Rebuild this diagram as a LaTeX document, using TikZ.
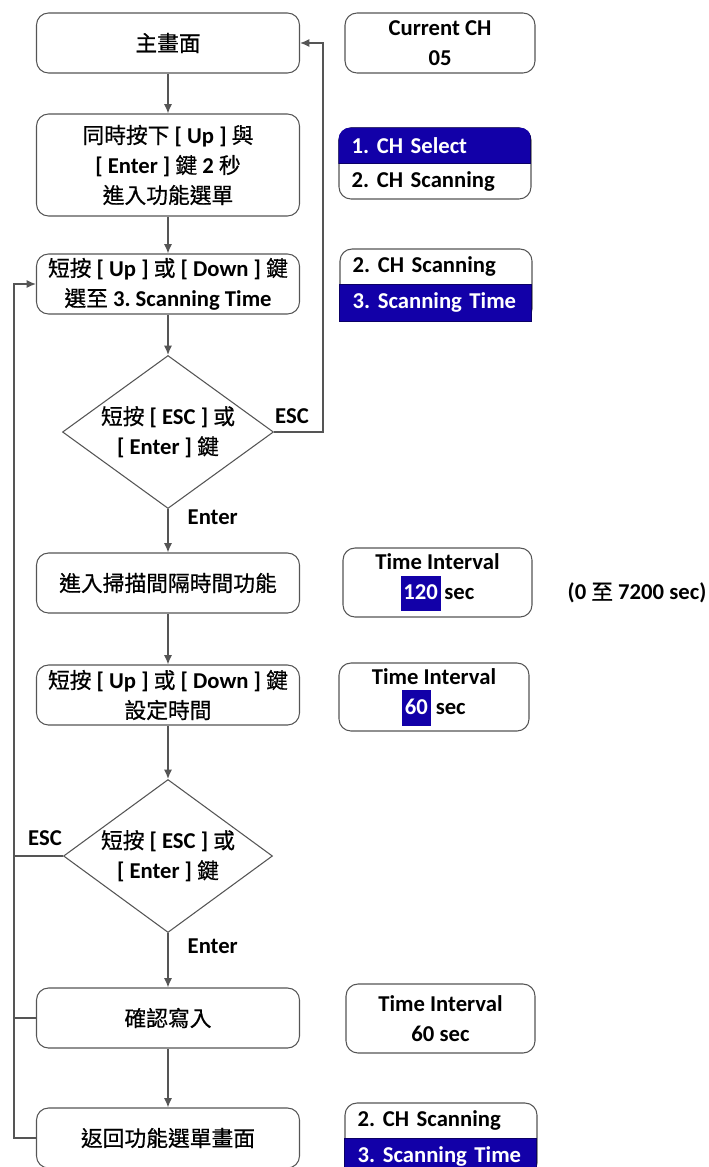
\documentclass[tikz,border=0pt]{standalone}
\usepackage{fontspec}
\setmainfont{Carlito}
\newfontfamily\cjk{Noto Sans CJK TC}[Scale=0.96,FakeBold=0.6]
\usepackage{tikz}
\usetikzlibrary{shapes.geometric,arrows.meta}
\definecolor{lcdblue}{RGB}{18,0,168}
\definecolor{linegray}{RGB}{85,85,85}
\newcommand\pxu{0.75pt}
\newcommand\zh[1]{{\cjk\mdseries #1}}
\newcommand\hl[1]{{\setlength\fboxsep{2pt}\colorbox{lcdblue}{\strut\textcolor{white}{#1}}}}

\begin{document}
\begin{tikzpicture}[x=\pxu,y=-\pxu,
    font=\fontsize{17}{22.5}\selectfont\bfseries\frenchspacing,
    >={Latex[length=7pt,width=6pt]},
    stepbox/.style={draw=linegray,line width=0.8pt,rounded corners=9pt,minimum width=263*\pxu,minimum height=60*\pxu,align=center,inner sep=2pt},
    lcd/.style={draw=linegray,line width=0.8pt,rounded corners=9pt,minimum width=190*\pxu,minimum height=69*\pxu,align=center,inner sep=1pt},
    row/.style={minimum width=192*\pxu,minimum height=36*\pxu,text width=166*\pxu,inner xsep=13*\pxu,align=left},
    band/.style={row,fill=lcdblue,draw=lcdblue!60!black,text=white},
    decide/.style={diamond,aspect=1.38,draw=linegray,line width=0.8pt,minimum width=211*\pxu,minimum height=153*\pxu,inner sep=0pt,align=center},
    conn/.style={draw=linegray,line width=1pt}]
  \useasboundingbox (0,0) rectangle (708,1167);
  % left column
  \node[stepbox] (main) at (168,43) {\zh{主畫面}};
  \node[stepbox,minimum height=102*\pxu] (hold) at (168,165) {\zh{同時按下} [ Up ] \zh{與}\\{}[ Enter ] \zh{鍵} 2 \zh{秒}\\\zh{進入功能選單}};
  \node[stepbox] (pick) at (168,284) {\zh{短按} [ Up ] \zh{或} [ Down ] \zh{鍵}\\\zh{選至} 3. Scanning Time};
  \node[decide] (ask1) at (168,432) {\zh{短按} [ ESC ] \zh{或}\\{}[ Enter ] \zh{鍵}};
  \node[stepbox] (intv) at (168,583) {\zh{進入掃描間隔時間功能}};
  \node[stepbox] (adj) at (168,695) {\zh{短按} [ Up ] \zh{或} [ Down ] \zh{鍵}\\\zh{設定時間}};
  \node[decide,minimum width=209*\pxu] (ask2) at (168,856) {\zh{短按} [ ESC ] \zh{或}\\{}[ Enter ] \zh{鍵}};
  \node[stepbox] (save) at (168,1018) {\zh{確認寫入}};
  \node[stepbox] (back) at (168,1138) {\zh{返回功能選單畫面}};
  % right column
  \node[lcd,minimum height=60*\pxu] (cur) at (440,43) {Current CH\\05};
  \node[lcd,minimum width=192*\pxu,minimum height=71*\pxu] (menu1) at (435,163.5) {};
  \begin{scope}
    \clip[rounded corners=9pt] (menu1.north west) rectangle (menu1.south east);
    \node[band,anchor=north west] (menu1a) at (menu1.north west) {1. CH Select};
  \end{scope}
  \node[row,anchor=south west] (menu1b) at (menu1.south west) {2. CH Scanning};
  \node[lcd,minimum width=192*\pxu,minimum height=72*\pxu] (menu2) at (436,285) {};
  \node[row,anchor=north west] (menu2a) at (menu2.north west) {2. CH Scanning};
  \node[band,minimum height=37*\pxu,anchor=south west] (menu2b) at (menu2.south west) {3. Scanning Time};
  \node[lcd,minimum width=189*\pxu] (ti1) at (437.5,582.5) {Time Interval\\\hl{120}\,sec};
  \node (range) at (637,593) {(0 \zh{至} 7200 sec)};
  \node[lcd,minimum height=68*\pxu] (ti2) at (434,697) {Time Interval\\\hl{60} sec};
  \node[lcd,minimum width=189*\pxu] (ti3) at (440.5,1018.5) {Time Interval\\60 sec};
  \node[lcd,minimum width=192*\pxu,minimum height=72*\pxu] (menu3) at (441,1139) {};
  \node[row,anchor=north west] (menu3a) at (menu3.north west) {2. CH Scanning};
  \node[band,minimum height=37*\pxu,anchor=south west] (menu3b) at (menu3.south west) {3. Scanning Time};
  % labels
  \node (esc1) at (292,416) {ESC};
  \node[anchor=west] (ent1) at (183,517) {Enter};
  \node (esc2) at (45,838) {ESC};
  \node[anchor=west] (ent2) at (183,946) {Enter};
  % connectors
  \coordinate (rline) at (323,0);
  \coordinate (lline) at (14,0);
  \draw[conn,->] (main) -- (hold);
  \draw[conn,->] (hold) -- (pick);
  \draw[conn,->] (pick) -- (ask1);
  \draw[conn,->] (ask1) -- (intv);
  \draw[conn,->] (intv) -- (adj);
  \draw[conn,->] (adj) -- (ask2);
  \draw[conn,->] (ask2) -- (save);
  \draw[conn,->] (save) -- (back);
  \draw[conn,->] (ask1.east) -- (ask1.east -| rline) -- (main.east -| rline) -- (main.east);
  \draw[conn,->] (back.west) -- (back.west -| lline) -- (pick.west -| lline) -- (pick.west);
  \draw[conn] (save.west) -- (save.west -| lline);
  \draw[conn] (ask2.west) -- (ask2.west -| lline);
\end{tikzpicture}
\end{document}
